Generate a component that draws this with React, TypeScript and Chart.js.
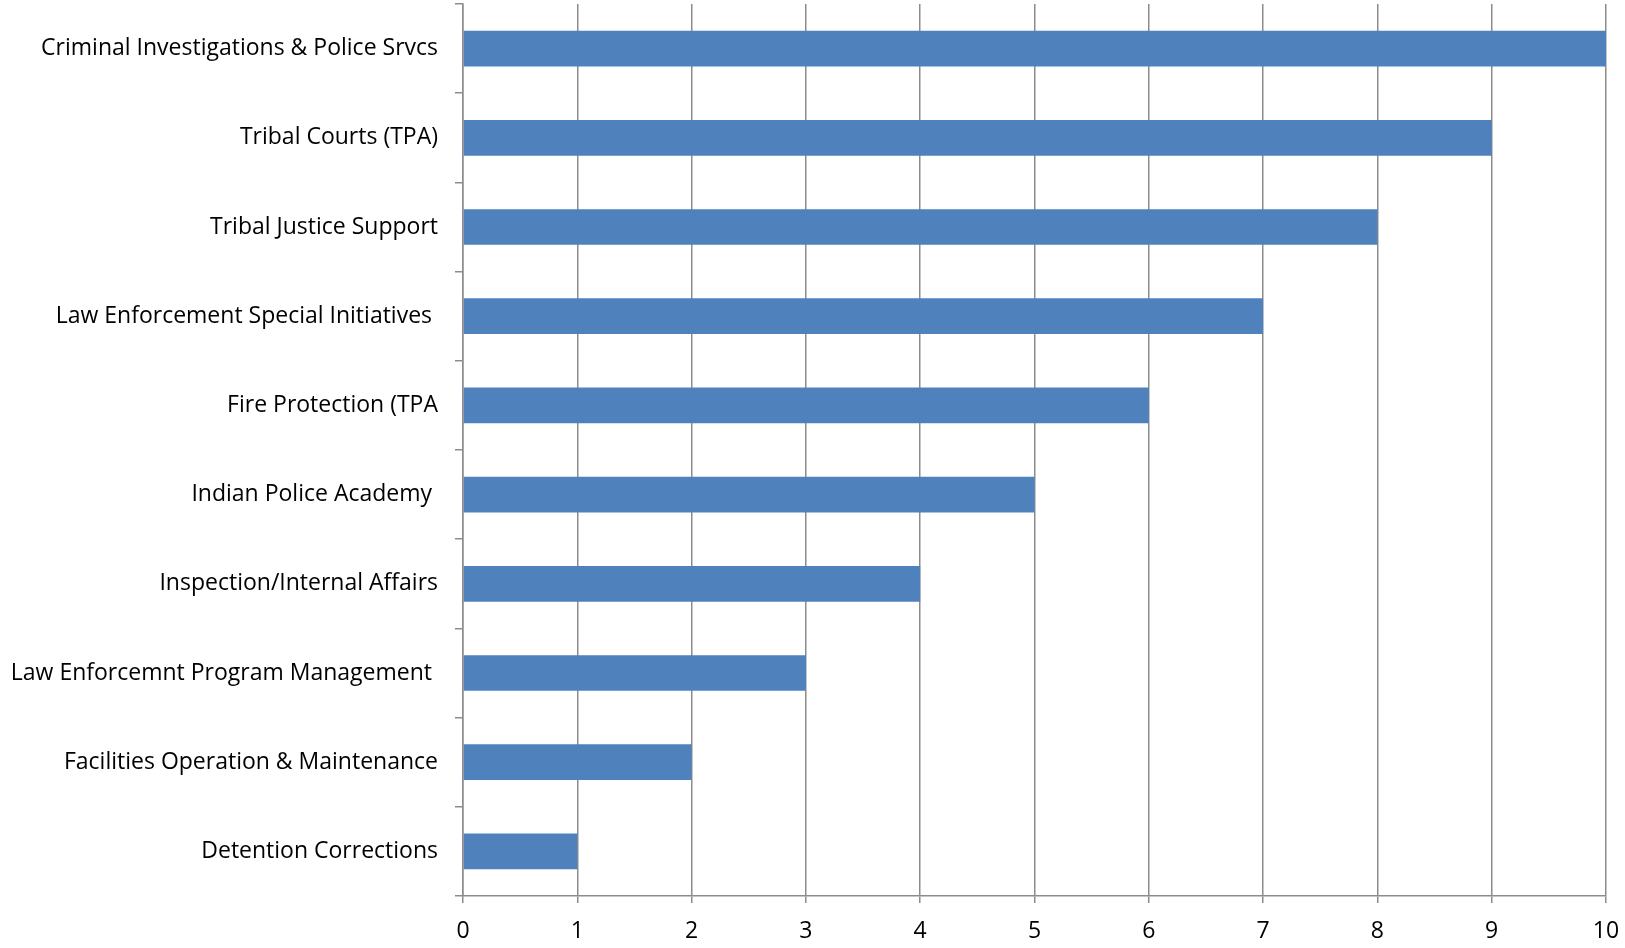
import React, { useEffect, useRef } from "react";
import { Chart, registerables } from "chart.js";

Chart.register(...registerables);

const categories = [
  "Criminal Investigations & Police Srvcs",
  "Tribal Courts (TPA)",
  "Tribal Justice Support",
  "Law Enforcement Special Initiatives ",
  "Fire Protection (TPA",
  "Indian Police Academy ",
  "Inspection/Internal Affairs",
  "Law Enforcemnt Program Management ",
  "Facilities Operation & Maintenance",
  "Detention Corrections",
];

const values = [10, 9, 8, 7, 6, 5, 4, 3, 2, 1];

const xTicks = [0, 1, 2, 3, 4, 5, 6, 7, 8, 9, 10];

export default function App() {
  const canvasRef = useRef<HTMLCanvasElement | null>(null);

  useEffect(() => {
    document.body.style.margin = "0";
    const canvas = canvasRef.current;
    if (!canvas) return;
    const font = { family: "'Open Sans', Lato, sans-serif", size: 23 };
    const chart = new Chart(canvas, {
      type: "bar",
      data: {
        labels: categories,
        datasets: [
          {
            data: values,
            backgroundColor: "#4F81BD",
            borderWidth: 0,
            categoryPercentage: 1,
            barPercentage: 0.4,
          },
        ],
      },
      options: {
        indexAxis: "y",
        animation: false,
        responsive: false,
        maintainAspectRatio: false,
        layout: { padding: { top: 4, right: 19, left: 0, bottom: 0 } },
        plugins: { legend: { display: false }, tooltip: { enabled: false } },
        scales: {
          x: {
            type: "linear",
            min: xTicks[0],
            max: xTicks[xTicks.length - 1],
            afterBuildTicks: (axis: any) => {
              axis.ticks = xTicks.map((v) => ({ value: v }));
            },
            afterFit: (axis: any) => {
              axis.height = 52;
              axis.paddingLeft = 0;
              axis.paddingRight = 0;
            },
            grid: {
              color: "#8C8C8C",
              lineWidth: 1.5,
              tickLength: 7,
              drawTicks: true,
            },
            border: { display: true, color: "#8C8C8C", width: 1.5 },
            ticks: {
              color: "#000000",
              font,
              padding: 15,
              maxRotation: 0,
            },
          },
          y: {
            type: "category",
            afterFit: (axis: any) => {
              axis.width = 463;
              axis.paddingTop = 0;
              axis.paddingBottom = 0;
            },
            grid: {
              display: true,
              drawOnChartArea: false,
              color: "#8C8C8C",
              lineWidth: 1.5,
              tickLength: 8,
              offset: true,
            },
            border: { display: true, color: "#8C8C8C", width: 1.5 },
            ticks: {
              color: "#000000",
              font,
              padding: 17,
              autoSkip: false,
            },
          },
        },
      },
    });
    return () => chart.destroy();
  }, []);

  return (
    <div style={{ position: "absolute", left: 0, top: 0, width: 1625, height: 948, background: "#fff" }}>
      <canvas ref={canvasRef} width={1625} height={948} style={{ width: 1625, height: 948 }} />
    </div>
  );
}
